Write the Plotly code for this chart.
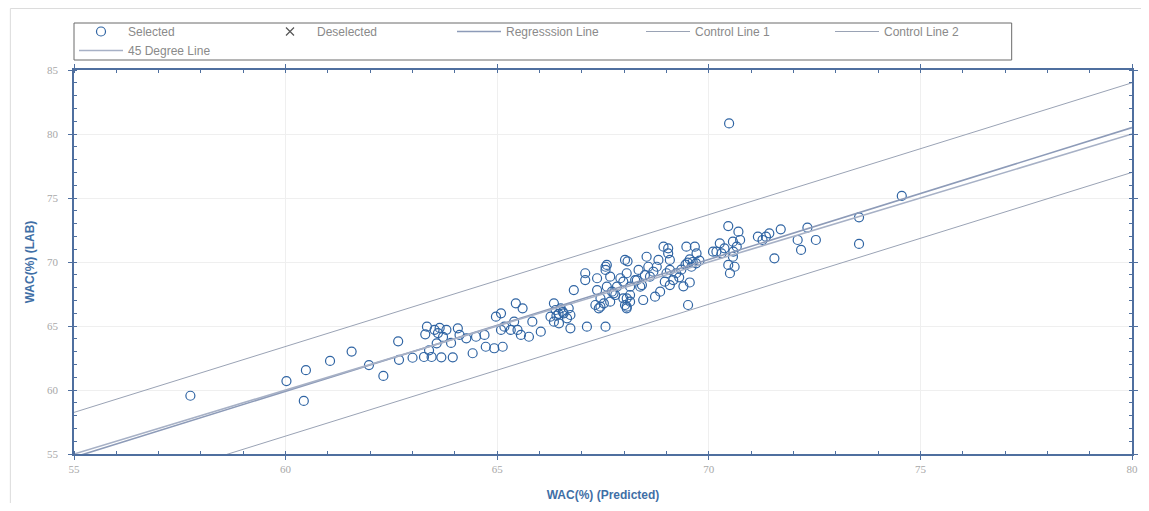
import plotly.graph_objects as go

# ---- data ----
pred = [57.75, 60.02, 60.43, 60.48, 61.05, 61.56, 61.97, 62.31, 62.66, 62.68,
        63.00, 63.27, 63.34, 63.30, 63.39, 63.52, 63.60, 63.64, 63.72, 63.80,
        63.57, 63.45, 63.68, 63.95, 63.91, 64.07, 64.11, 64.27, 64.42, 64.50,
        64.70, 64.73, 64.93, 64.97, 65.09, 65.09, 65.17, 65.13, 65.32, 65.40,
        65.48, 65.44, 65.60, 65.56, 65.75, 65.83, 66.03, 66.26, 66.34, 66.38,
        66.50, 66.57, 66.65, 66.69, 66.73, 66.34, 66.46, 66.73, 66.81, 67.08,
        67.08, 67.12, 67.36, 67.36, 67.44, 67.52, 67.56, 67.56, 67.59, 67.71,
        67.79, 67.67, 67.91, 67.32, 67.40, 67.67, 68.02, 68.02, 68.06, 68.14,
        67.98, 68.14, 68.26, 68.42, 68.34, 68.49, 68.45, 68.53, 68.57, 68.73,
        68.85, 69.51, 70.48, 73.55, 73.55, 72.33, 72.53, 72.10, 72.18, 71.70,
        71.55, 71.43, 71.27, 71.16, 71.35, 70.46, 70.70, 70.74, 70.66, 70.58,
        70.57, 70.46, 70.50, 70.26, 70.30, 70.37, 70.18, 70.10, 69.67, 69.47,
        69.71, 69.55, 69.62, 69.70, 69.78, 69.50, 69.45, 69.59, 69.04, 68.93,
        69.04, 69.08, 68.81, 68.77, 68.08, 69.08, 69.00, 69.23, 69.16, 68.96,
        69.08, 68.61, 68.69, 68.38, 68.30, 68.06, 67.98, 68.14, 68.06, 68.06,
        67.83, 67.75, 67.59, 67.56, 67.44, 70.57, 70.61, 74.56, 69.35, 69.30,
        69.55, 69.40, 66.45, 66.55, 66.40]
lab = [59.55, 60.70, 59.15, 61.55, 62.27, 63.00, 61.95, 61.10, 63.80, 62.36,
       62.52, 62.58, 64.95, 64.35, 63.10, 64.70, 64.45, 64.85, 64.15, 64.70,
       63.65, 62.58, 62.55, 62.55, 63.68, 64.82, 64.30, 64.04, 62.87, 64.16,
       64.30, 63.38, 63.26, 65.73, 65.99, 64.69, 64.95, 63.38, 64.69, 65.34,
       64.69, 66.77, 66.38, 64.30, 64.16, 65.34, 64.56, 65.73, 66.77, 66.25,
       66.38, 65.99, 65.60, 66.38, 65.86, 65.34, 65.21, 64.82, 67.81, 69.12,
       68.59, 64.95, 68.73, 67.81, 67.16, 66.77, 69.63, 64.95, 68.07, 67.68,
       67.42, 68.85, 68.73, 66.64, 66.38, 66.90, 70.16, 66.64, 66.38, 66.90,
       67.16, 67.42, 68.59, 68.20, 69.38, 68.98, 67.03, 70.41, 69.63, 67.29,
       67.68, 66.64, 80.83, 73.49, 71.41, 72.68, 71.72, 71.72, 70.94, 72.55,
       70.29, 72.24, 71.72, 71.98, 71.98, 72.81, 72.37, 71.72, 71.20, 70.81,
       71.59, 69.77, 69.12, 71.46, 70.68, 71.07, 70.81, 70.81, 71.20, 71.20,
       70.68, 70.20, 70.00, 69.90, 70.10, 69.95, 69.80, 69.63, 71.07, 71.20,
       70.68, 70.16, 70.16, 69.63, 70.05, 69.38, 69.12, 69.12, 68.59, 68.46,
       68.20, 68.85, 69.24, 68.07, 68.59, 69.12, 68.46, 68.07, 67.16, 66.51,
       68.07, 67.55, 69.77, 69.38, 66.51, 70.41, 69.63, 75.16, 69.40, 68.80,
       68.40, 68.10, 65.95, 66.10, 65.80]

line_x = [55, 80]
regression_y = [54.75, 80.50]
control1_y = [58.25, 84.00]
control2_y = [51.25, 77.00]
degree45_y = [55, 80]

x_ticks = [55, 60, 65, 70, 75, 80]
y_ticks = [55, 60, 65, 70, 75, 80, 85]

fig = go.Figure()
fig.add_trace(go.Scatter(x=pred, y=lab, mode="markers", name="Selected",
                         marker=dict(symbol="circle-open", size=9, color="#2f64a3",
                                     line=dict(width=1.2, color="#2f64a3"))))
fig.add_trace(go.Scatter(x=[None], y=[None], mode="markers", name="Deselected",
                         marker=dict(symbol="x-thin-open", size=8, color="#555555",
                                     line=dict(width=1.2, color="#555555"))))
fig.add_trace(go.Scatter(x=line_x, y=regression_y, mode="lines", name="Regresssion Line",
                         line=dict(color="#8d9bb8", width=1.6)))
fig.add_trace(go.Scatter(x=line_x, y=control1_y, mode="lines", name="Control Line 1",
                         line=dict(color="#9aa3b5", width=1)))
fig.add_trace(go.Scatter(x=line_x, y=control2_y, mode="lines", name="Control Line 2",
                         line=dict(color="#9aa3b5", width=1)))
fig.add_trace(go.Scatter(x=line_x, y=degree45_y, mode="lines", name="45 Degree Line",
                         line=dict(color="#a7b1c6", width=1.6)))

axis_common = dict(
    showline=True, linecolor="#4f6f9f", linewidth=1.5, mirror="ticks",
    ticks="outside", ticklen=4, tickcolor="#4f6f9f", tickwidth=1,
    showgrid=True, gridcolor="#efefef", gridwidth=1, zeroline=False,
    tickfont=dict(family="Liberation Serif", size=11, color="#a8a8a8"),
    minor=dict(dtick=1, ticks="inside", ticklen=3, tickcolor="#4f6f9f", showgrid=False),
)

fig.update_xaxes(range=[55, 80], tickvals=x_ticks, **axis_common,
                 title=dict(text="<b>WAC(%) (Predicted)</b>", standoff=17,
                            font=dict(family="Liberation Sans", size=12, color="#3f6fa6")))
fig.update_yaxes(range=[55, 85], tickvals=y_ticks, ticklabelstandoff=8, **axis_common,
                 title=dict(text="<b>WAC(%) (LAB)</b>", standoff=10,
                            font=dict(family="Liberation Sans", size=12, color="#3f6fa6")))

# the page body has an 8 px margin on every side; keep the figure inside the window
OFF = 8
W, H = 1149 - 2 * OFF, 511 - 2 * OFF
L, R, T, B = 66, 3, 62, 49
pw, ph = W - L - R, H - T - B

def px_x(page):
    return (page - OFF - L) / pw

def px_y(page):
    return (H - B - (page - OFF)) / ph

# faint outer panel frame
fig.add_shape(type="rect", xref="paper", yref="paper",
              x0=px_x(10), x1=px_x(1160), y0=px_y(530), y1=px_y(8.5),
              line=dict(color="#dcdcdc", width=1), fillcolor="rgba(0,0,0,0)", layer="below")
# legend frame
fig.add_shape(type="rect", xref="paper", yref="paper",
              x0=px_x(74), x1=px_x(1017), y0=px_y(60), y1=px_y(23),
              line=dict(color="#6b6b6b", width=1), fillcolor="white", layer="below")

fig.update_layout(
    width=W, height=H,
    margin=dict(l=L, r=R, t=T, b=B),
    paper_bgcolor="white", plot_bgcolor="white",
    showlegend=True,
    legend=dict(orientation="h", x=px_x(74), xanchor="left", y=px_y(17), yanchor="top",
                borderwidth=0, bgcolor="rgba(0,0,0,0)",
                itemwidth=44, entrywidth=130, entrywidthmode="pixels",
                font=dict(family="Liberation Sans", size=12, color="#8a8a8a")),
)

fig.write_html("out.html")
